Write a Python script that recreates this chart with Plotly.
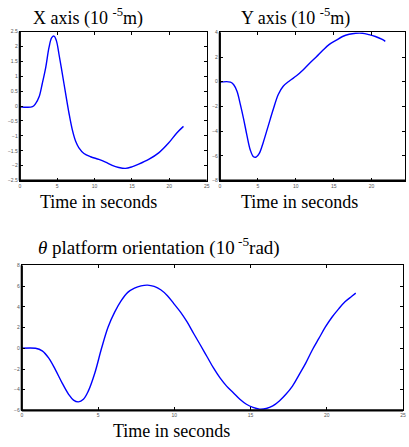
import plotly.graph_objects as go

# ---- data ----
t_x = [0, 1.7, 2.13, 2.58, 3.0, 3.47, 3.9, 4.27, 4.58, 4.9, 5.24, 5.69, 6.13, 6.58, 7.02, 7.47, 7.91,
       8.58, 9.47, 10.58, 11.47, 12.36, 13.24, 14.13, 15.0, 15.9, 17.24, 18.58, 19.9, 21.0, 21.9]
x_vals = [-0.02, -0.02, 0.09, 0.31, 0.75, 1.3, 1.96, 2.3, 2.35, 2.19, 1.74, 1.08, 0.42, -0.24, -0.79,
          -1.18, -1.4, -1.59, -1.7, -1.79, -1.88, -1.99, -2.06, -2.09, -2.04, -1.95, -1.79, -1.57,
          -1.24, -0.9, -0.68]

t_y = [0, 1.4, 1.83, 2.26, 2.7, 3.13, 3.57, 4.0, 4.43, 4.78, 5.2, 5.74, 6.39, 7.04, 7.7, 8.35, 9.2,
       10.1, 10.96, 11.8, 12.7, 13.57, 14.43, 15.3, 16.17, 17.04, 17.9, 18.8, 19.65, 20.5, 21.4, 21.8]
y_vals = [-0.03, -0.03, -0.24, -0.77, -1.83, -3.0, -4.34, -5.5, -6.07, -6.1, -5.8, -4.87, -3.55,
          -2.23, -1.03, -0.37, 0.08, 0.48, 0.95, 1.48, 2.0, 2.54, 3.02, 3.34, 3.66, 3.84, 3.92, 3.92,
          3.81, 3.66, 3.42, 3.26]

t_th = [0, 0.9, 1.34, 1.77, 2.2, 2.64, 3.07, 3.39, 3.71, 4.04, 4.36, 4.79, 5.23, 5.66, 6.09, 6.52,
        6.95, 7.39, 7.82, 8.25, 8.68, 9.11, 9.55, 9.98, 10.41, 10.84, 11.27, 11.71, 12.14, 12.57,
        13.0, 13.43, 13.87, 14.3, 14.73, 15.16, 15.59, 16.03, 16.46, 16.89, 17.32, 17.75, 18.19,
        18.62, 19.05, 19.48, 19.91, 20.35, 20.78, 21.21, 21.64, 21.9]
th_vals = [0, 0, -0.25, -0.95, -2.06, -3.33, -4.44, -5.0, -5.17, -4.92, -4.13, -2.38, 0, 2.06, 3.49,
           4.6, 5.4, 5.81, 6.03, 6.1, 5.97, 5.65, 5.08, 4.29, 3.49, 2.54, 1.43, 0.32, -0.79, -1.9,
           -2.86, -3.65, -4.29, -4.92, -5.4, -5.71, -5.87, -5.81, -5.56, -5.08, -4.44, -3.65, -2.54,
           -1.43, -0.16, 0.95, 2.06, 3.02, 3.81, 4.51, 5.02, 5.33]

x_ticks_1 = [0, 5, 10, 15, 20, 25]
y_ticks_1 = [2.5, 2, 1.5, 1, 0.5, 0, -0.5, -1, -1.5, -2, -2.5]
y_ticks_2 = [4, 2, 0, -2, -4, -6, -8]
y_ticks_3 = [8, 6, 4, 2, 0, -2, -4, -6]

W, H = 409, 447
BLUE = "#0000ff"

fig = go.Figure()
fig.add_trace(go.Scatter(x=t_x, y=x_vals, mode="lines", line=dict(color=BLUE, width=1.4, shape="spline"),
                         xaxis="x", yaxis="y", showlegend=False))
fig.add_trace(go.Scatter(x=t_y, y=y_vals, mode="lines", line=dict(color=BLUE, width=1.4, shape="spline"),
                         xaxis="x2", yaxis="y2", showlegend=False))
fig.add_trace(go.Scatter(x=t_th, y=th_vals, mode="lines", line=dict(color=BLUE, width=1.4, shape="spline"),
                         xaxis="x3", yaxis="y3", showlegend=False))

tickfont = dict(family="Liberation Sans", size=5, color="#555555")
common = dict(showgrid=False, zeroline=False, showline=True, linecolor="black", linewidth=1,
              mirror="allticks", ticks="inside", ticklen=3, tickcolor="black", tickwidth=1,
              tickfont=tickfont, fixedrange=True)

def px_x(p):
    return p / W

def px_y(p):
    return 1 - p / H

fig.update_layout(
    width=W, height=H, margin=dict(l=0, r=0, t=0, b=0),
    paper_bgcolor="white", plot_bgcolor="white",
    xaxis=dict(domain=[px_x(19), px_x(207.7)], range=[0, 25], tickvals=x_ticks_1, anchor="y", **common),
    yaxis=dict(domain=[px_y(180), px_y(29)], range=[-2.5, 2.5], tickvals=y_ticks_1, anchor="x", **common),
    xaxis2=dict(domain=[px_x(221), px_x(408)], range=[0, 24.4], tickvals=x_ticks_1, anchor="y2", **common),
    yaxis2=dict(domain=[px_y(180), px_y(29.7)], range=[-8, 4], tickvals=y_ticks_2, anchor="x2", **common),
    xaxis3=dict(domain=[px_x(21), px_x(406)], range=[0, 25], tickvals=x_ticks_1, anchor="y3", **common),
    yaxis3=dict(domain=[px_y(413), px_y(266)], range=[-6, 8], tickvals=y_ticks_3, anchor="x3", **common),
)

# thicker left / bottom axis lines
shapes = []
for xr, yr in [("x", "y"), ("x2", "y2"), ("x3", "y3")]:
    shapes.append(dict(type="line", xref=f"{xr} domain", yref=f"{yr} domain", x0=0, x1=0, y0=0, y1=1,
                       line=dict(color="black", width=2.2)))
    shapes.append(dict(type="line", xref=f"{xr} domain", yref=f"{yr} domain", x0=0, x1=1, y0=0, y1=0,
                       line=dict(color="black", width=2.2)))
fig.update_layout(shapes=shapes)

serif = dict(family="Liberation Serif", size=18, color="black")
ann = [
    dict(text="X axis (10 <sup>-5</sup>m)", x=px_x(30), y=px_y(14), xanchor="left", yanchor="middle"),
    dict(text="Y axis (10 <sup>-5</sup>m)", x=px_x(240), y=px_y(14), xanchor="left", yanchor="middle"),
    dict(text="Time in seconds", x=px_x(98), y=px_y(202), xanchor="center", yanchor="middle"),
    dict(text="Time in seconds", x=px_x(301), y=px_y(202), xanchor="center", yanchor="middle"),
    dict(text="<i>θ</i> platform orientation (10<sup> -5</sup>rad)", x=px_x(35), y=px_y(247), xanchor="left", yanchor="middle",
         font=dict(family="Liberation Serif", size=19, color="black")),
    dict(text="Time in seconds", x=px_x(172), y=px_y(434), xanchor="center", yanchor="middle"),
]
for a in ann:
    a.setdefault("font", serif)
    a.update(xref="paper", yref="paper", showarrow=False)
fig.update_layout(annotations=ann)

fig.write_html("out.html", config={"displayModeBar": False})
